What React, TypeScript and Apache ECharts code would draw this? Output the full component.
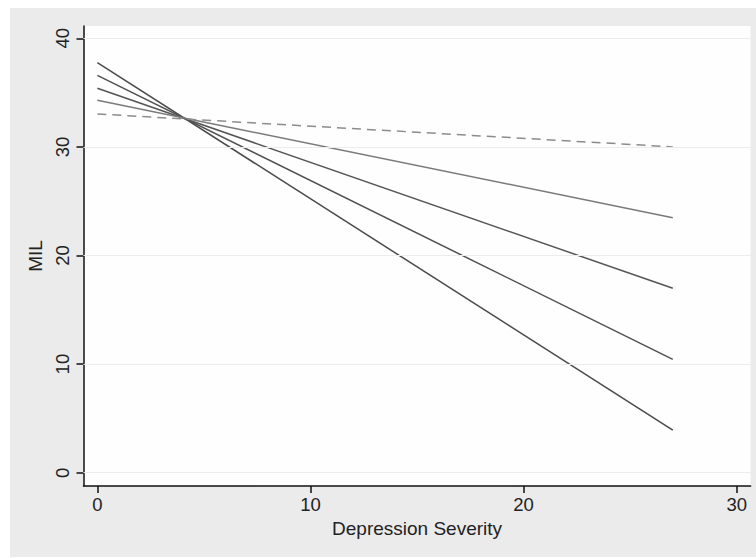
import React, { useEffect, useRef } from "react";
import * as echarts from "echarts";

// Depression severity (x) endpoints of the fitted lines
const xValues = [0, 27];
// MIL predicted values at each endpoint, one array per line
const lineA = [37.75, 3.93];
const lineB = [36.59, 10.44];
const lineC = [35.4, 16.98];
const lineD = [34.29, 23.48];
const lineE = [33.03, 30.0]; // dashed
const xTicks = [0, 10, 20, 30];
const yTicks = [0, 10, 20, 30, 40];

const FONT = "'Liberation Sans', Arial, Helvetica, sans-serif";

export default function App() {
  const ref = useRef<HTMLDivElement>(null);
  useEffect(() => {
    if (!ref.current) return;
    const chart = echarts.init(ref.current, undefined, { renderer: "svg" });
    const mk = (vals: number[]) => xValues.map((x, i) => [x, vals[i]]);
    const solid = (name: string, vals: number[], color: string) => ({
      name,
      type: "line",
      data: mk(vals),
      symbol: "none",
      z: 3,
      lineStyle: { color, width: 1.5 },
    });
    chart.setOption({
      animation: false,
      backgroundColor: "transparent",
      textStyle: { fontFamily: FONT },
      grid: {
        left: 83.5,
        right: 5.4,
        top: 26,
        bottom: 72,
        show: true,
        backgroundColor: "#fefefe",
        borderWidth: 0,
      },
      xAxis: {
        type: "value",
        min: -0.65,
        max: 30.65,
        name: "Depression Severity",
        nameLocation: "middle",
        nameGap: 29.5,
        nameTextStyle: { fontSize: 19, color: "#222", fontFamily: FONT },
        axisLine: { show: true, onZero: false, lineStyle: { color: "#111", width: 1.5 } },
        axisTick: { show: true, length: 7, customValues: xTicks, lineStyle: { color: "#111", width: 1.5 } },
        axisLabel: { customValues: xTicks, fontSize: 18.5, color: "#222", margin: 9, fontFamily: FONT },
        splitLine: { show: false },
      },
      yAxis: {
        type: "value",
        min: -1.22,
        max: 41.13,
        name: "MIL",
        nameLocation: "middle",
        nameRotate: 90,
        nameGap: 34,
        nameTextStyle: { fontSize: 19, color: "#222", fontFamily: FONT },
        axisLine: { show: true, onZero: false, lineStyle: { color: "#111", width: 1.5 } },
        axisTick: { show: true, length: 7, customValues: yTicks, lineStyle: { color: "#111", width: 1.5 } },
        axisLabel: { customValues: yTicks, rotate: 90, fontSize: 18.5, color: "#222", margin: 12, fontFamily: FONT },
        splitLine: { show: false },
      },
      series: [
        {
          name: "grid",
          type: "line",
          data: [],
          z: 1,
          silent: true,
          markLine: {
            silent: true,
            symbol: "none",
            label: { show: false },
            lineStyle: { color: "#ececec", width: 1, type: "solid" },
            data: yTicks.map((v) => ({ yAxis: v })),
          },
        },
        solid("A", lineA, "#4a4a4a"),
        solid("B", lineB, "#505050"),
        solid("C", lineC, "#555555"),
        solid("D", lineD, "#7a7a7a"),
        {
          name: "E",
          type: "line",
          data: mk(lineE),
          symbol: "none",
          z: 3,
          lineStyle: { color: "#8c8c8c", width: 1.5, type: [9, 6] },
        },
      ],
    });
    return () => chart.dispose();
  }, []);
  return (
    <div style={{ position: "fixed", left: 0, top: 0, width: 756, height: 558, background: "#ffffff" }}>
      <div style={{ position: "absolute", left: 10, top: 8, width: 746, height: 549, background: "#ebebeb" }} />
      <div ref={ref} style={{ position: "absolute", left: 0, top: 0, width: 756, height: 558 }} />
    </div>
  );
}
